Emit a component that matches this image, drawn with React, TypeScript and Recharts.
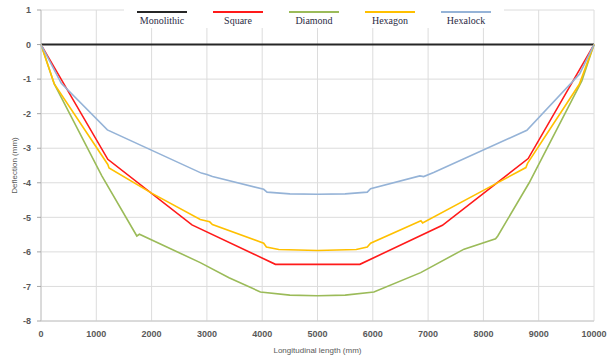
import { CartesianGrid, Label, Legend, Line, LineChart, XAxis, YAxis } from "recharts";

// x positions (mm) and deflections (mm)
const monolithicX = [0, 1000, 2000, 3000, 4000, 5000, 6000, 7000, 8000, 9000, 10000];
const monolithicY = [0, 0, 0, 0, 0, 0, 0, 0, 0, 0, 0];

const squareX = [0, 1208, 2730, 4239, 5766, 7259, 8810, 10000];
const squareY = [0, -3.32, -5.22, -6.36, -6.36, -5.23, -3.3, 0];

const diamondX = [0, 240, 600, 1100, 1733, 1780, 2880, 3400, 3967, 4500, 5000, 5500, 6020, 6866, 7650, 8220, 8260, 8828, 9780, 10000];
const diamondY = [0, -1.14, -2.25, -3.8, -5.54, -5.49, -6.31, -6.75, -7.16, -7.25, -7.27, -7.25, -7.16, -6.6, -5.92, -5.62, -5.54, -4.0, -1.05, 0];

const hexagonX = [0, 240, 1208, 1230, 2000, 2880, 3050, 3100, 4027, 4076, 4300, 5000, 5700, 5900, 5960, 6870, 6900, 8000, 8768, 8798, 9734, 10000];
const hexagonY = [0, -1.14, -3.47, -3.57, -4.3, -5.06, -5.13, -5.21, -5.75, -5.86, -5.93, -5.96, -5.93, -5.86, -5.75, -5.1, -5.16, -4.22, -3.56, -3.44, -1.15, 0];

const hexalockX = [0, 367, 1200, 2900, 3000, 3100, 4027, 4088, 4500, 5000, 5500, 5900, 5960, 6850, 6920, 7100, 8786, 9740, 10000];
const hexalockY = [0, -1.12, -2.47, -3.72, -3.76, -3.82, -4.19, -4.27, -4.32, -4.33, -4.32, -4.27, -4.17, -3.8, -3.82, -3.7, -2.48, -0.85, 0];

const xTicks = [0, 1000, 2000, 3000, 4000, 5000, 6000, 7000, 8000, 9000, 10000];
const yTicks = [1, 0, -1, -2, -3, -4, -5, -6, -7, -8];

const toPoints = (xs: number[], ys: number[]) => xs.map((x, i) => ({ x, y: ys[i] }));

const series = [
  { name: "Monolithic", color: "#262626", width: 2, data: toPoints(monolithicX, monolithicY) },
  { name: "Square", color: "#ff1a1a", width: 1.6, data: toPoints(squareX, squareY) },
  { name: "Diamond", color: "#9bbb59", width: 1.6, data: toPoints(diamondX, diamondY) },
  { name: "Hexagon", color: "#ffc000", width: 1.6, data: toPoints(hexagonX, hexagonY) },
  { name: "Hexalock", color: "#95b3d7", width: 1.6, data: toPoints(hexalockX, hexalockY) },
];

const tickStyle = { fill: "#595959", fontSize: 9, fontWeight: 700, fontFamily: "Liberation Sans, Arial, sans-serif" };
const titleStyle = { fill: "#595959", fontSize: 8, fontFamily: "Liberation Sans, Arial, sans-serif" };

// legend keeps the series order (recharts would sort it by name)
const LegendBox = () => (
  <div style={{ display: "flex", background: "white", height: 22 }}>
    {series.map((s) => (
      <div key={s.name} style={{ width: 76, display: "flex", flexDirection: "column", alignItems: "center" }}>
        <div style={{ width: 50, height: 2, marginTop: 5, background: s.color }} />
        <div
          style={{
            marginTop: 2,
            fontFamily: "Liberation Serif, Times New Roman, serif",
            fontSize: 10,
            lineHeight: "11px",
            color: "#2b2b45",
          }}
        >
          {s.name}
        </div>
      </div>
    ))}
  </div>
);

export default function App() {
  return (
    <div style={{ position: "absolute", left: 0, top: 0, background: "white" }}>
      <LineChart width={608} height={360} margin={{ top: 10, right: 14, bottom: 0, left: 0 }}>
        <CartesianGrid stroke="#dcdcdc" strokeWidth={1} />
        <XAxis
          type="number"
          dataKey="x"
          domain={[0, 10000]}
          ticks={xTicks}
          height={39}
          tickLine={false}
          tickSize={0}
          tickMargin={10}
          axisLine={{ stroke: "#c8c8c8" }}
          tick={tickStyle}
          allowDuplicatedCategory={false}
        >
          <Label value="Longitudinal length (mm)" position="insideBottom" offset={7} style={titleStyle} />
        </XAxis>
        <YAxis
          type="number"
          domain={[-8, 1]}
          ticks={yTicks}
          width={41}
          tickSize={4}
          tickMargin={6}
          tickLine={{ stroke: "#a6a6a6" }}
          axisLine={{ stroke: "#c8c8c8" }}
          tick={tickStyle}
        >
          <Label
            value="Deflection (mm)"
            angle={-90}
            position="insideLeft"
            offset={14}
            style={{ ...titleStyle, textAnchor: "middle" }}
          />
        </YAxis>
        <Legend
          layout="horizontal"
          verticalAlign="middle"
          align="center"
          wrapperStyle={{ position: "absolute", top: 6, left: 124, width: 380 }}
          content={() => <LegendBox />}
        />
        {series.map((s) => (
          <Line
            key={s.name}
            name={s.name}
            data={s.data}
            dataKey="y"
            type="linear"
            stroke={s.color}
            strokeWidth={s.width}
            dot={false}
            activeDot={false}
            isAnimationActive={false}
          />
        ))}
      </LineChart>
    </div>
  );
}
